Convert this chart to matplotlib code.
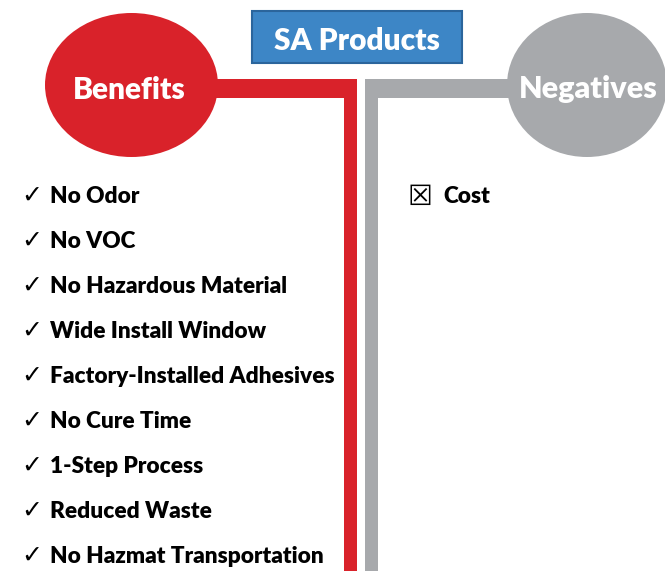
import matplotlib.pyplot as plt
from matplotlib.patches import Ellipse, Rectangle

plt.rcParams['font.family'] = ['Lato', 'DejaVu Sans']

# content
title = 'SA Products'
left_heading = 'Benefits'
right_heading = 'Negatives'
benefits = ['No Odor', 'No VOC', 'No Hazardous Material', 'Wide Install Window',
            'Factory-Installed Adhesives', 'No Cure Time', '1-Step Process',
            'Reduced Waste', 'No Hazmat Transportation']
negatives = ['Cost']

red = '#d9222a'
gray = '#a7a9ac'
blue = '#3d86c6'

W, H = 665, 571
fig = plt.figure(figsize=(W / 100, H / 100), dpi=100)
ax = fig.add_axes([0, 0, 1, 1])
ax.set_xlim(0, W)
ax.set_ylim(H, 0)
ax.axis('off')

# connector bars
ax.add_patch(Rectangle((344, 79), 13, H - 79, color=red, lw=0))
ax.add_patch(Rectangle((200, 79), 157, 19, color=red, lw=0))
ax.add_patch(Rectangle((365, 79), 13, H - 79, color=gray, lw=0))
ax.add_patch(Rectangle((365, 79), 160, 19, color=gray, lw=0))

# heading bubbles
ax.add_patch(Ellipse((131.5, 85), 173, 144, color=red, lw=0))
ax.add_patch(Ellipse((587, 85), 160, 144, color=gray, lw=0))
ax.text(129, 99, left_heading, color='white', fontsize=21.5, fontweight='heavy',
        ha='center', va='baseline')
ax.text(588, 98, right_heading, color='white', fontsize=22, fontweight='heavy',
        ha='center', va='baseline')

# title box
ax.add_patch(Rectangle((252, 11), 210, 52, facecolor=blue, edgecolor='#2b659c', lw=1.5))
ax.text(357, 50, title, color='white', fontsize=21.5, fontweight='heavy',
        ha='center', va='baseline')

# lists
for i, item in enumerate(benefits):
    y = 203 + 45 * i
    ax.text(21, y, '\u2713', fontsize=18, fontweight='bold', ha='left', va='baseline',
            family='DejaVu Sans', color='black')
    ax.text(50, y, item, fontsize=16.3, fontweight='heavy', ha='left', va='baseline')

for i, item in enumerate(negatives):
    y = 203 + 45 * i
    ax.text(408, y + 2, '\u2612', fontsize=20, fontweight='bold', ha='left', va='baseline',
            family='DejaVu Sans', color='black')
    ax.text(443, y, item, fontsize=16.3, fontweight='heavy', ha='left', va='baseline')

fig.savefig('out.png', dpi=100)
